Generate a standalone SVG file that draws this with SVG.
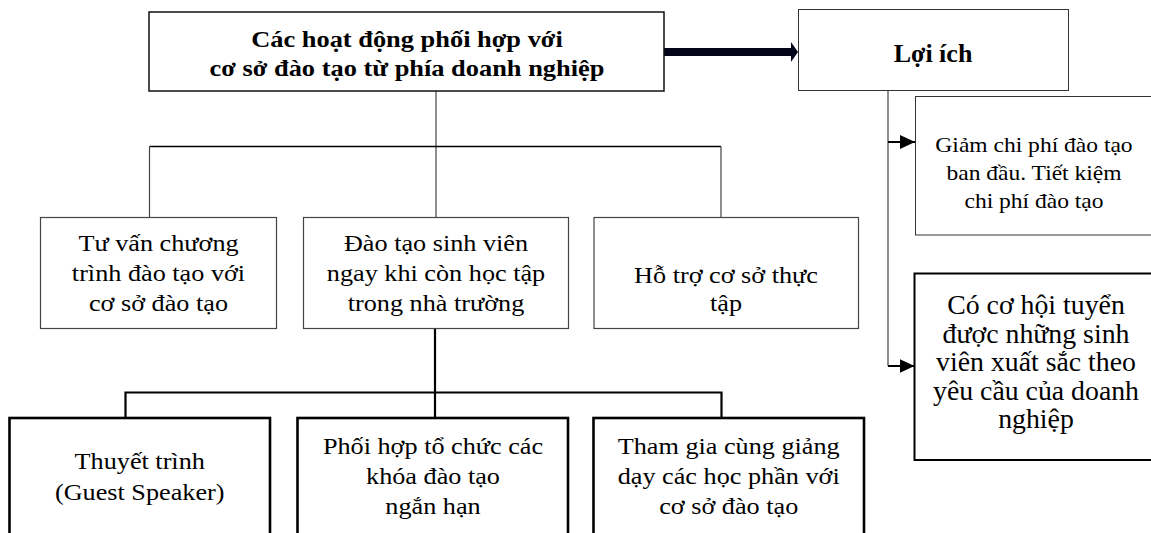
<svg xmlns="http://www.w3.org/2000/svg" width="1151" height="533" viewBox="0 0 1151 533">
<style>
  text { font-family: "Liberation Serif", "Times New Roman", serif; fill: #000; text-anchor: middle; }
  .b { font-weight: bold; }
  .box-top { fill: #fff; stroke: #111; stroke-width: 1.5; }
  .box-thin { fill: #fff; stroke: #333; stroke-width: 1; }
  .box-mid { fill: #fff; stroke: #444; stroke-width: 1.2; }
  .box-med { fill: #fff; stroke: #000; stroke-width: 2; }
  .box-thick { fill: #fff; stroke: #000; stroke-width: 2.6; }
  .c-thin { fill: none; stroke: #444; stroke-width: 1.2; }
  .c-hz { fill: none; stroke: #000; stroke-width: 1.6; }
  .c-thick { fill: none; stroke: #000; stroke-width: 2.2; }
  .t22 { font-size: 22px; }
  .t23 { font-size: 23px; }
  .t27 { font-size: 27px; }
</style>
<defs>
  <marker id="ah" markerUnits="userSpaceOnUse" markerWidth="15" markerHeight="14" refX="15" refY="7" orient="auto">
    <path d="M0,0 L15,7 L0,14 z" fill="#000"/>
  </marker>
  <marker id="ahBig" markerUnits="userSpaceOnUse" markerWidth="8" markerHeight="20" refX="0" refY="10" orient="auto">
    <path d="M0,0 L7,10 L0,20 z" fill="#05051a"/>
  </marker>
</defs>
<rect width="1151" height="533" fill="#fff"/>

<g id="connectors">
  <path class="c-thin" d="M436,91 V217"/>
  <path class="c-hz" d="M149.5,146.5 H721"/>
  <path class="c-thin" d="M149.5,146.5 V217"/>
  <path class="c-thin" d="M721,146.5 V217"/>
  <path class="c-thick" d="M435,328.5 V418"/>
  <path class="c-thick" d="M125.5,418 V392.5 H721.5 V418"/>
  <line x1="664" y1="52" x2="791" y2="52" stroke="#05051a" stroke-width="8" marker-end="url(#ahBig)"/>
  <path class="c-thin" d="M888,91 V366"/>
  <line x1="888" y1="142" x2="915" y2="142" stroke="#000" stroke-width="2" marker-end="url(#ah)"/>
  <line x1="888" y1="366" x2="914.5" y2="366" stroke="#000" stroke-width="2" marker-end="url(#ah)"/>
</g>

<g id="node-main">
  <rect class="box-top" x="149" y="12" width="515" height="79"/>
  <g transform="translate(407 0) scale(1.1 1)">
    <text class="b" font-size="24" x="0" y="47">Các hoạt động phối hợp với</text>
    <text class="b" font-size="24" x="0" y="76">cơ sở đào tạo từ phía doanh nghiệp</text>
  </g>
</g>

<g id="node-loiich">
  <rect class="box-thin" x="798.5" y="9.5" width="270" height="81"/>
  <text class="b" font-size="26" x="933" y="62">Lợi ích</text>
</g>

<g id="node-giam">
  <rect class="box-thin" x="915.5" y="96.5" width="240" height="138.5"/>
  <g transform="translate(1034 0) scale(1.07 1)">
    <text class="t22" x="0" y="152">Giảm chi phí đào tạo</text>
    <text class="t22" x="0" y="180">ban đầu. Tiết kiệm</text>
    <text class="t22" x="0" y="208">chi phí đào tạo</text>
  </g>
</g>

<g id="node-coco">
  <rect class="box-med" x="914.5" y="273.5" width="240" height="186.5"/>
  <g transform="translate(1036 0) scale(1.03 1)">
    <text class="t27" x="0" y="314">Có cơ hội tuyển</text>
    <text class="t27" x="0" y="343">được những sinh</text>
    <text class="t27" x="0" y="371.5">viên xuất sắc theo</text>
    <text class="t27" x="0" y="400">yêu cầu của doanh</text>
    <text class="t27" x="0" y="428.5">nghiệp</text>
  </g>
</g>

<g id="node-tuvan">
  <rect class="box-mid" x="40.5" y="217.5" width="236" height="111"/>
  <g transform="translate(158.5 0) scale(1.14 1)">
    <text class="t23" x="0" y="251">Tư vấn chương</text>
    <text class="t23" x="0" y="281">trình đào tạo với</text>
    <text class="t23" x="0" y="311">cơ sở đào tạo</text>
  </g>
</g>

<g id="node-daotao">
  <rect class="box-mid" x="303.5" y="217.5" width="265" height="111"/>
  <g transform="translate(436 0) scale(1.14 1)">
    <text class="t23" x="0" y="251">Đào tạo sinh viên</text>
    <text class="t23" x="0" y="281">ngay khi còn học tập</text>
    <text class="t23" x="0" y="311">trong nhà trường</text>
  </g>
</g>

<g id="node-hotro">
  <rect class="box-mid" x="594" y="217.5" width="264.5" height="111"/>
  <g transform="translate(726 0) scale(1.14 1)">
    <text class="t23" x="0" y="283">Hỗ trợ cơ sở thực</text>
    <text class="t23" x="0" y="311">tập</text>
  </g>
</g>

<g id="node-thuyettrinh">
  <rect class="box-thick" x="9.5" y="418" width="260.5" height="130"/>
  <g transform="translate(139.7 0) scale(1.14 1)">
    <text class="t23" x="0" y="469">Thuyết trình</text>
    <text class="t23" x="0" y="500">(Guest Speaker)</text>
  </g>
</g>

<g id="node-phoihop">
  <rect class="box-thick" x="297.5" y="418" width="270.5" height="130"/>
  <g transform="translate(433 0) scale(1.14 1)">
    <text class="t23" x="0" y="454">Phối hợp tổ chức các</text>
    <text class="t23" x="0" y="484.5">khóa đào tạo</text>
    <text class="t23" x="0" y="514">ngắn hạn</text>
  </g>
</g>

<g id="node-thamgia">
  <rect class="box-thick" x="593.5" y="418" width="270.5" height="130"/>
  <g transform="translate(728.7 0) scale(1.14 1)">
    <text class="t23" x="0" y="454">Tham gia cùng giảng</text>
    <text class="t23" x="0" y="484.5">dạy các học phần với</text>
    <text class="t23" x="0" y="514">cơ sở đào tạo</text>
  </g>
</g>
</svg>
